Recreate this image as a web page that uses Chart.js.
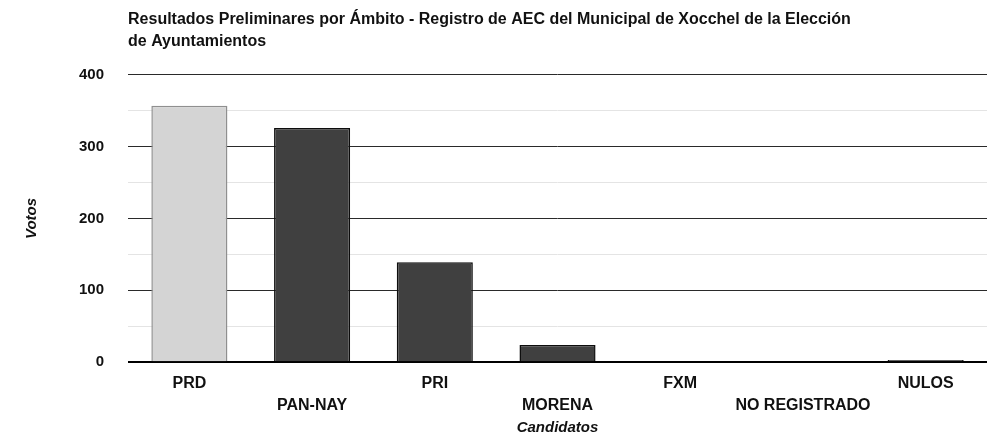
<!DOCTYPE html>
<html>
<head>
<meta charset="utf-8">
<script src="https://cdn.jsdelivr.net/npm/chart.js@4"></script>
<style>
  html, body { margin: 0; padding: 0; background: #fff; }
</style>
</head>
<body>
<canvas id="grafica" width="987" height="445"></canvas>
<script>
// Datos de la gráfica
const candidatos = ['PRD', 'PAN-NAY', 'PRI', 'MORENA', 'FXM', 'NO REGISTRADO', 'NULOS'];
const votos = [357, 326, 139, 24, 1, 0, 3];
const ticksY = [0, 50, 100, 150, 200, 250, 300, 350, 400];

// PRD va en gris claro, el resto en gris oscuro
const colores = candidatos.map(c => c === 'PRD' ? '#d4d4d4' : '#404040');
const bordes = candidatos.map(c => c === 'PRD' ? '#8f8f8f' : '#0d0d0d');

// Etiquetas alternadas en dos renglones
const etiquetas = candidatos.map((c, i) => i % 2 === 0 ? [c, ''] : ['', c]);

Chart.defaults.font.family = '"Liberation Sans", Arial, sans-serif';
Chart.defaults.color = '#111';

const ctx = document.getElementById('grafica').getContext('2d');
new Chart(ctx, {
    type: 'bar',
    data: {
        labels: etiquetas,
        datasets: [{
            label: 'Votos',
            data: votos,
            backgroundColor: colores,
            borderColor: bordes,
            borderWidth: 1.5,
            categoryPercentage: 1,
            barPercentage: 0.62
        }]
    },
    options: {
        responsive: false,
        animation: false,
        layout: { padding: { top: 4, right: -10, left: 23, bottom: 2 } },
        plugins: {
            legend: { display: false },
            tooltip: { enabled: false },
            title: {
                display: true,
                fullSize: false,
                align: 'start',
                text: ['Resultados Preliminares por Ámbito - Registro de AEC del Municipal de Xocchel de la Elección', 'de Ayuntamientos'],
                font: { size: 16, weight: 'bold', lineHeight: 1.4 },
                padding: { top: 4, bottom: 22 }
            }
        },
        scales: {
            x: {
                grid: { display: false, drawTicks: false },
                border: { display: false },
                ticks: {
                    maxRotation: 0,
                    autoSkip: false,
                    font: { size: 16, weight: 'bold', lineHeight: 1.4 },
                    padding: 10
                },
                title: {
                    display: true,
                    text: 'Candidatos',
                    font: { size: 15, weight: 'bold', style: 'italic' },
                    padding: { top: -8, bottom: 6 }
                }
            },
            y: {
                min: 0,
                max: 400,
                afterBuildTicks: axis => { axis.ticks = ticksY.map(v => ({ value: v })); },
                grid: {
                    color: ctx => ctx.tick.value === 0 ? '#000' : (ctx.tick.value % 100 === 0 ? '#2a2a2a' : '#e4e4e4'),
                    lineWidth: ctx => ctx.tick.value === 0 ? 2 : 1,
                    drawTicks: false
                },
                border: { display: false },
                ticks: {
                    font: { size: 15, weight: 'bold' },
                    padding: 24,
                    callback: v => v % 100 === 0 ? v : ''
                },
                title: {
                    display: true,
                    text: 'Votos',
                    font: { size: 15, weight: 'bold', style: 'italic' },
                    padding: { top: 0, bottom: 14 }
                }
            }
        }
    }
});
</script>
</body>
</html>
